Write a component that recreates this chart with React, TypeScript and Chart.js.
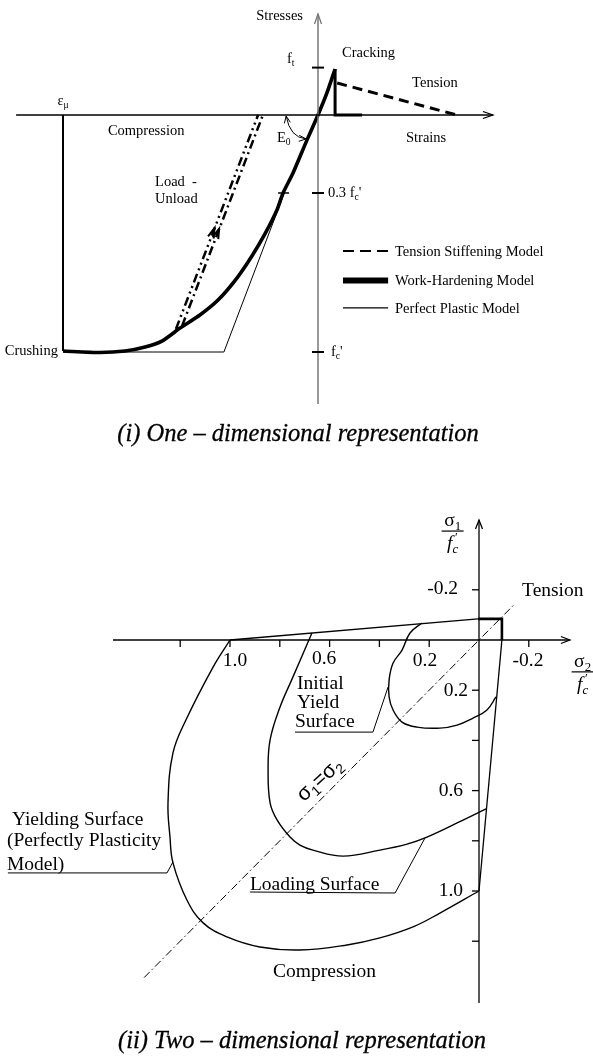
import { useEffect, useRef } from 'react';
import { Chart, registerables } from 'chart.js';

Chart.register(...registerables);

type Pair = [number, number];
type Run = { t: string; sub?: boolean; sup?: boolean; italic?: boolean; hold?: boolean; dx?: number };
type Label = { runs: Run[]; at: Pair; align?: CanvasTextAlign };

const SERIF = "'Liberation Serif', 'Times New Roman', serif";
const SANS = "'Liberation Sans', Arial, sans-serif";

// ---------- (i) one-dimensional model: x = strain / |ε_μ|, y = stress / f'c ----------
const strainAxis: Pair[] = [[-1.184, 0], [0.686, 0]];
const stressAxis: Pair[] = [[0, -1.219], [0, 0.426]];
const stressTickValues = [0.2, -0.329, -1.0];
const crushingEdge: Pair[] = [[-1, 0], [-1, -0.996]];
const workHardening: Pair[] = [
  [-1.0, -0.996], [-0.855, -1.002], [-0.757, -0.996], [-0.678, -0.979], [-0.612, -0.954],
  [-0.541, -0.899], [-0.463, -0.844], [-0.392, -0.781], [-0.318, -0.688], [-0.259, -0.595],
  [-0.208, -0.502], [-0.161, -0.401], [-0.137, -0.329], [-0.098, -0.245], [-0.043, -0.105],
  [0, 0], [0.035, 0.093], [0.067, 0.194],
];
const crackingDrop: Pair[] = [[0.067, 0.194], [0.067, 0], [0.173, 0]];
const tensionStiffening: Pair[] = [[0.075, 0.135], [0.545, 0]];
const perfectPlastic: Pair[] = [[-1, -1], [-0.369, -1], [-0.132, -0.329]];
const plasticJoint: Pair = [-0.137, -0.329];
const loadPath: Pair[] = [[-0.557, -0.903], [-0.235, 0]];
const unloadPath: Pair[] = [[-0.533, -0.89], [-0.216, 0]];
const loadArrows: Pair[] = [[-0.406, -0.477], [-0.388, -0.48]];
const modulusArc: Pair[] = [[-0.125, -0.004], [-0.11, -0.095], [-0.047, -0.101]];
const legendNames = ['Tension Stiffening Model', 'Work-Hardening Model', 'Perfect Plastic Model'];
const legendRows = [-0.574, -0.698, -0.814];

const oneDLabels: Label[] = [
  { runs: [{ t: 'Stresses' }], at: [-0.059, 0.418], align: 'right' },
  { runs: [{ t: 'f' }, { t: 't', sub: true }], at: [-0.122, 0.236] },
  { runs: [{ t: 'Cracking' }], at: [0.094, 0.262] },
  { runs: [{ t: 'Tension' }], at: [0.369, 0.135] },
  { runs: [{ t: 'Strains' }], at: [0.345, -0.097] },
  { runs: [{ t: '0.3 f' }, { t: 'c', sub: true }, { t: "'" }], at: [0.039, -0.329] },
  { runs: [{ t: 'f' }, { t: 'c', sub: true }, { t: "'" }], at: [0.051, -1.0] },
  { runs: [{ t: 'E' }, { t: '0', sub: true }], at: [-0.161, -0.097] },
  { runs: [{ t: 'ε' }, { t: 'μ', sub: true }], at: [-1.0, 0.059], align: 'center' },
  { runs: [{ t: 'Compression' }], at: [-0.824, -0.068] },
  { runs: [{ t: 'Load  -' }], at: [-0.639, -0.283] },
  { runs: [{ t: 'Unload' }], at: [-0.639, -0.354] },
  { runs: [{ t: 'Crushing' }], at: [-1.02, -0.996], align: 'right' },
];

// ---------- (ii) two-dimensional model: x = σ2 / f'c, y = σ1 / f'c (compression positive) ----------
const sigma2Axis: Pair[] = [[1.47, 0], [-0.365, 0]];
const sigma1Axis: Pair[] = [[0, 1.446], [0, -0.478]];
const sigma2Ticks = [1.2, 1.0, 0.8, 0.6, 0.4, 0.2, -0.2];
const sigma1Ticks = [-0.2, 0.2, 0.4, 0.6, 0.8, 1.0, 1.2];
const equalStressLine: Pair[] = [[1.345, 1.345], [-0.14, -0.14]];
const yieldTop: Pair[] = [[1.0, 0], [0.004, -0.084]];
const tensionCorner: Pair[] = [[0.004, -0.084], [-0.092, -0.084], [-0.092, 0]];
const yieldCurve: Pair[] = [
  [1.0, 0], [1.068, 0.108], [1.177, 0.319], [1.229, 0.45], [1.249, 0.649], [1.241, 0.785],
  [1.229, 0.888], [1.173, 1.036], [1.108, 1.127], [1.012, 1.183], [0.88, 1.223], [0.719, 1.235],
  [0.53, 1.215], [0.398, 1.187], [0.265, 1.143], [0.157, 1.088], [0, 1.0],
];
const yieldRightEdge: Pair[] = [[0, 1.0], [-0.092, 0]];
const loadingSurface: Pair[] = [
  [0.671, -0.028], [0.747, 0.147], [0.799, 0.267], [0.839, 0.398], [0.847, 0.518], [0.839, 0.649],
  [0.811, 0.717], [0.759, 0.785], [0.719, 0.817], [0.667, 0.837], [0.546, 0.861], [0.398, 0.837],
  [0.289, 0.813], [0.209, 0.785], [0.088, 0.729], [-0.028, 0.673],
];
const initialYield: Pair[] = [
  [0.229, -0.068], [0.277, -0.028], [0.309, 0.04], [0.345, 0.092], [0.361, 0.159], [0.361, 0.227],
  [0.345, 0.279], [0.309, 0.327], [0.249, 0.347], [0.157, 0.351], [0.088, 0.339], [0.024, 0.311],
  [-0.032, 0.279], [-0.068, 0.227],
];
const initialLeader: Pair[] = [[0.739, 0.367], [0.426, 0.367], [0.365, 0.187]];
const loadingLeader: Pair[] = [[0.92, 1.004], [0.337, 1.008], [0.217, 0.789]];
const yieldingLeader: Pair[] = [[1.892, 0.928], [1.253, 0.928], [1.229, 0.884]];

const twoDLabels: Label[] = [
  { runs: [{ t: '1.0' }], at: [0.98, 0.084], align: 'center' },
  { runs: [{ t: '0.6' }], at: [0.622, 0.076], align: 'center' },
  { runs: [{ t: '0.2' }], at: [0.217, 0.084], align: 'center' },
  { runs: [{ t: '-0.2' }], at: [-0.197, 0.084], align: 'center' },
  { runs: [{ t: '-0.2' }], at: [0.084, -0.203], align: 'right' },
  { runs: [{ t: '0.2' }], at: [0.044, 0.203], align: 'right' },
  { runs: [{ t: '0.6' }], at: [0.064, 0.602], align: 'right' },
  { runs: [{ t: '1.0' }], at: [0.064, 1.0], align: 'right' },
  { runs: [{ t: 'Tension' }], at: [-0.173, -0.195] },
  { runs: [{ t: 'Initial' }], at: [0.731, 0.175] },
  { runs: [{ t: 'Yield' }], at: [0.731, 0.251] },
  { runs: [{ t: 'Surface' }], at: [0.739, 0.327] },
  { runs: [{ t: 'Loading Surface' }], at: [0.92, 0.976] },
  { runs: [{ t: 'Yielding Surface' }], at: [1.876, 0.717] },
  { runs: [{ t: '(Perfectly Plasticity' }], at: [1.896, 0.801] },
  { runs: [{ t: 'Model)' }], at: [1.896, 0.896] },
  { runs: [{ t: 'Compression' }], at: [0.827, 1.323] },
];
const sigma1Fraction: Pair = [0.106, -0.434];
const sigma2Fraction: Pair = [-0.416, 0.127];
const equalStressText: Pair = [0.639, 0.558];

// ---------- helpers ----------
const toPoints = (a: Pair[]) => a.map(([x, y]) => ({ x, y }));

function line(data: Pair[], width: number, extra: Record<string, unknown> = {}) {
  return {
    data: toPoints(data),
    showLine: true,
    pointRadius: 0,
    pointHoverRadius: 0,
    borderColor: '#000',
    borderWidth: width,
    fill: false,
    tension: 0,
    borderCapStyle: 'butt',
    borderJoinStyle: 'miter',
    ...extra,
  };
}

function drawRuns(ctx: CanvasRenderingContext2D, runs: Run[], x: number, y: number, size: number, family: string, align: CanvasTextAlign = 'left') {
  const small = size * 0.66;
  const fontOf = (r: Run) => `${r.italic ? 'italic ' : ''}${r.sub || r.sup ? small : size}px ${family}`;
  const widths = runs.map((r) => {
    ctx.font = fontOf(r);
    return ctx.measureText(r.t).width;
  });
  let total = 0;
  runs.forEach((r, i) => {
    if (!r.hold) total += widths[i];
  });
  let cx = align === 'right' ? x - total : align === 'center' ? x - total / 2 : x;
  ctx.textAlign = 'left';
  ctx.textBaseline = 'middle';
  runs.forEach((r, i) => {
    ctx.font = fontOf(r);
    const dy = r.sub ? size * 0.3 : r.sup ? -size * 0.32 : 0;
    ctx.fillText(r.t, cx + (r.dx ?? 0), y + dy);
    if (!r.hold) cx += widths[i];
  });
}

type Pt = { x: number; y: number };
function arrowHead(ctx: CanvasRenderingContext2D, tip: Pt, from: Pt, len: number, half: number) {
  const dx = tip.x - from.x;
  const dy = tip.y - from.y;
  const d = Math.hypot(dx, dy) || 1;
  const ux = dx / d;
  const uy = dy / d;
  const bx = tip.x - ux * len;
  const by = tip.y - uy * len;
  ctx.beginPath();
  ctx.moveTo(bx - uy * half, by + ux * half);
  ctx.lineTo(tip.x, tip.y);
  ctx.lineTo(bx + uy * half, by - ux * half);
  ctx.stroke();
}

function pixeler(chart: Chart) {
  const sx = chart.scales.x;
  const sy = chart.scales.y;
  return (p: Pair): Pt => ({ x: sx.getPixelForValue(p[0]), y: sy.getPixelForValue(p[1]) });
}

function drawCaption(ctx: CanvasRenderingContext2D, text: string, x: number, y: number) {
  ctx.font = `italic 24.5px ${SERIF}`;
  ctx.textAlign = 'center';
  ctx.textBaseline = 'alphabetic';
  ctx.fillStyle = '#000';
  ctx.strokeStyle = '#000';
  ctx.lineWidth = 0.3;
  ctx.setLineDash([]);
  ctx.fillText(text, x, y);
  ctx.strokeText(text, x, y);
}

type Frame = { width: number; height: number; originX: number; originY: number; unitX: number; unitY: number };
const frame1: Frame = { width: 593, height: 460, originX: 318, originY: 115, unitX: 255, unitY: 237 };
const frame2: Frame = { width: 593, height: 597, originX: 479, originY: 180, unitX: 249, unitY: 251 };

// ---------- panel (i) decorations ----------
const oneDDecor = {
  id: 'oneDDecor',
  afterDatasetsDraw(chart: Chart) {
    const ctx = chart.ctx;
    const px = pixeler(chart);
    ctx.save();
    ctx.lineCap = 'butt';
    // axis arrowheads
    ctx.lineWidth = 1.3;
    ctx.strokeStyle = '#000';
    arrowHead(ctx, px(strainAxis[1]), px(strainAxis[0]), 10, 3.5);
    ctx.strokeStyle = '#777';
    arrowHead(ctx, px(stressAxis[1]), px(stressAxis[0]), 10, 3.5);
    // ticks across the stress axis
    ctx.strokeStyle = '#000';
    ctx.lineWidth = 2;
    stressTickValues.forEach((v) => {
      const p = px([0, v]);
      ctx.beginPath();
      ctx.moveTo(p.x - 6, p.y);
      ctx.lineTo(p.x + 6, p.y);
      ctx.stroke();
    });
    // mark where the perfectly plastic branch leaves the curve
    const j = px(plasticJoint);
    ctx.lineWidth = 1.5;
    ctx.beginPath();
    ctx.moveTo(j.x - 5, j.y);
    ctx.lineTo(j.x + 6, j.y);
    ctx.stroke();
    // initial modulus arc
    const a0 = px(modulusArc[0]);
    const a1 = px(modulusArc[1]);
    const a2 = px(modulusArc[2]);
    ctx.lineWidth = 1;
    ctx.beginPath();
    ctx.moveTo(a0.x, a0.y);
    ctx.quadraticCurveTo(a1.x, a1.y, a2.x, a2.y);
    ctx.stroke();
    arrowHead(ctx, a0, a1, 7, 3);
    arrowHead(ctx, a2, a1, 7, 3);
    // load / unload direction marks
    ctx.lineWidth = 2;
    loadArrows.forEach((p, i) => {
      const path = i === 0 ? loadPath : unloadPath;
      const tip = px(p);
      const a = px(path[0]);
      const b = px(path[1]);
      const d = Math.hypot(b.x - a.x, b.y - a.y);
      arrowHead(ctx, tip, { x: tip.x - (b.x - a.x) / d, y: tip.y - (b.y - a.y) / d }, 10, 3);
    });
    // legend
    const x0 = px([0.098, 0]).x;
    const x1 = px([0.275, 0]).x;
    const tx = px([0.302, 0]).x;
    const styles = [
      { w: 2, dash: [11, 6] },
      { w: 6, dash: [] as number[] },
      { w: 1.2, dash: [] as number[] },
    ];
    legendNames.forEach((name, i) => {
      const yy = px([0, legendRows[i]]).y;
      ctx.lineWidth = styles[i].w;
      ctx.setLineDash(styles[i].dash);
      ctx.beginPath();
      ctx.moveTo(x0, yy);
      ctx.lineTo(x1, yy);
      ctx.stroke();
      ctx.setLineDash([]);
      ctx.fillStyle = '#000';
      drawRuns(ctx, [{ t: name }], tx, yy + 1, 14.5, SERIF);
    });
    // labels
    ctx.fillStyle = '#000';
    oneDLabels.forEach((l) => {
      const p = px(l.at);
      drawRuns(ctx, l.runs, p.x, p.y, 14.5, SERIF, l.align);
    });
    drawCaption(ctx, '(i) One – dimensional representation', 298, 441);
    ctx.restore();
  },
};

// ---------- panel (ii) decorations ----------
function drawFraction(ctx: CanvasRenderingContext2D, c: Pt, sub: string) {
  const size = 19.5;
  ctx.fillStyle = '#000';
  ctx.strokeStyle = '#000';
  ctx.lineWidth = 1.2;
  ctx.beginPath();
  ctx.moveTo(c.x - 11, c.y);
  ctx.lineTo(c.x + 11, c.y);
  ctx.stroke();
  drawRuns(ctx, [{ t: 'σ' }, { t: sub, sub: true }], c.x, c.y - 10, size, SERIF, 'center');
  drawRuns(
    ctx,
    [{ t: 'f', italic: true }, { t: '′', sup: true, hold: true, dx: 2.5 }, { t: 'c', sub: true, italic: true }],
    c.x,
    c.y + 13,
    size,
    SERIF,
    'center'
  );
}

const twoDDecor = {
  id: 'twoDDecor',
  afterDatasetsDraw(chart: Chart) {
    const ctx = chart.ctx;
    const px = pixeler(chart);
    ctx.save();
    ctx.strokeStyle = '#000';
    ctx.fillStyle = '#000';
    ctx.lineWidth = 1.3;
    arrowHead(ctx, px(sigma2Axis[1]), px(sigma2Axis[0]), 9, 3.5);
    arrowHead(ctx, px(sigma1Axis[1]), px(sigma1Axis[0]), 9, 3.5);
    sigma2Ticks.forEach((v) => {
      const p = px([v, 0]);
      ctx.beginPath();
      ctx.moveTo(p.x, p.y);
      ctx.lineTo(p.x, p.y + 7);
      ctx.stroke();
    });
    sigma1Ticks.forEach((v) => {
      const p = px([0, v]);
      ctx.beginPath();
      ctx.moveTo(p.x - 7, p.y);
      ctx.lineTo(p.x, p.y);
      ctx.stroke();
    });
    twoDLabels.forEach((l) => {
      const p = px(l.at);
      drawRuns(ctx, l.runs, p.x, p.y, 19.5, SERIF, l.align);
    });
    drawFraction(ctx, px(sigma1Fraction), '1');
    drawFraction(ctx, px(sigma2Fraction), '2');
    // σ1 = σ2 along the equal-stress diagonal
    const e = px(equalStressText);
    ctx.save();
    ctx.translate(e.x, e.y);
    ctx.rotate((-42 * Math.PI) / 180);
    drawRuns(ctx, [{ t: 'σ' }, { t: '1', sub: true }, { t: '=' }, { t: 'σ' }, { t: '2', sub: true }], 0, 0, 21, SANS, 'center');
    ctx.restore();
    drawCaption(ctx, '(ii) Two – dimensional representation', 302, 588);
    ctx.restore();
  },
};

function scalesFor(f: Frame, reverse: boolean) {
  if (reverse) {
    return {
      x: { type: 'linear', display: false, reverse: true, min: -(f.width - f.originX) / f.unitX, max: f.originX / f.unitX },
      y: { type: 'linear', display: false, reverse: true, min: -f.originY / f.unitY, max: (f.height - f.originY) / f.unitY },
    };
  }
  return {
    x: { type: 'linear', display: false, min: -f.originX / f.unitX, max: (f.width - f.originX) / f.unitX },
    y: { type: 'linear', display: false, min: -(f.height - f.originY) / f.unitY, max: f.originY / f.unitY },
  };
}

const baseOptions = {
  animation: false,
  responsive: false,
  events: [],
  layout: { padding: 0 },
  plugins: { legend: { display: false }, tooltip: { enabled: false } },
};

function buildOneD() {
  return {
    type: 'scatter',
    data: {
      datasets: [
        line(strainAxis, 1.3),
        line(stressAxis, 1.5, { borderColor: '#777' }),
        line(perfectPlastic, 1),
        line(crushingEdge, 2),
        line(workHardening, 3.6, { tension: 0.2 }),
        line(crackingDrop, 3),
        line(tensionStiffening, 3, { borderDash: [10, 6] }),
        line(loadPath, 2.5, { borderDash: [9, 4, 2, 4, 2, 4] }),
        line(unloadPath, 2.5, { borderDash: [9, 4, 2, 4] }),
      ],
    },
    options: { ...baseOptions, scales: scalesFor(frame1, false) },
    plugins: [oneDDecor],
  };
}

function buildTwoD() {
  return {
    type: 'scatter',
    data: {
      datasets: [
        line(sigma2Axis, 1.3),
        line(sigma1Axis, 1.3),
        line(equalStressLine, 1, { borderDash: [8, 3, 1.5, 3] }),
        line(yieldTop, 1.3),
        line(tensionCorner, 2.6),
        line(yieldCurve, 1.4, { tension: 0.4 }),
        line(yieldRightEdge, 1.3),
        line(loadingSurface, 1.4, { tension: 0.4 }),
        line(initialYield, 1.4, { tension: 0.4 }),
        line(initialLeader, 1),
        line(loadingLeader, 1),
        line(yieldingLeader, 1),
      ],
    },
    options: { ...baseOptions, scales: scalesFor(frame2, true) },
    plugins: [twoDDecor],
  };
}

function Panel({ frame, top, build }: { frame: Frame; top: number; build: () => unknown }) {
  const ref = useRef<HTMLCanvasElement | null>(null);
  useEffect(() => {
    if (!ref.current) return;
    const chart = new Chart(ref.current, build() as any);
    return () => chart.destroy();
  }, [build]);
  return (
    <canvas
      ref={ref}
      width={frame.width}
      height={frame.height}
      style={{ position: 'absolute', left: 0, top, width: frame.width, height: frame.height }}
    />
  );
}

export default function App() {
  return (
    <div style={{ position: 'absolute', left: 0, top: 0, width: 593, height: 1057, background: '#fff', overflow: 'hidden' }}>
      <Panel frame={frame1} top={0} build={buildOneD} />
      <Panel frame={frame2} top={460} build={buildTwoD} />
    </div>
  );
}
